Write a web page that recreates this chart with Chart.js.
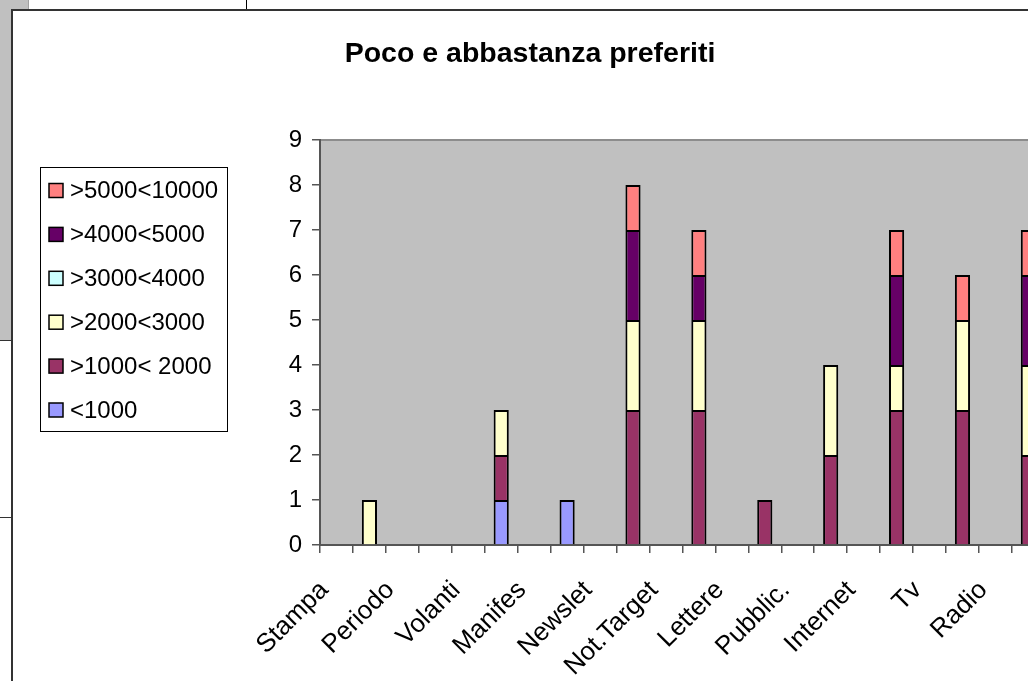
<!DOCTYPE html>
<html>
<head>
<meta charset="utf-8">
<script src="https://cdn.jsdelivr.net/npm/chart.js@4"></script>
<style>
  html, body { margin: 0; padding: 0; width: 1028px; height: 681px; overflow: hidden; background: #fff; }
  .sheet-gray { position: absolute; left: 0; top: 0; width: 11px; height: 340px; background: #c0c0c0; }
  .sheet-gray-top { position: absolute; left: 0; top: 0; width: 28px; height: 9px; background: #c0c0c0; border-right: 1px solid #a0a0a0; }
  .rule { position: absolute; left: 0; width: 11px; height: 1px; background: #333; }
  .vcell { position: absolute; left: 246px; top: 0; width: 1px; height: 9px; background: #000; }
  #frame { position: absolute; left: 11px; top: 9px; width: 1100px; height: 700px;
           border-left: 2px solid #333; border-top: 2px solid #333; }
  canvas { display: block; }
</style>
</head>
<body>
<div class="sheet-gray"></div>
<div class="sheet-gray-top"></div>
<div class="vcell"></div>
<div class="rule" style="top:340px"></div>
<div class="rule" style="top:517px"></div>
<div id="frame"><canvas id="chart" width="1060" height="680"></canvas></div>

<script>
// Media names shown on the axis; each one is followed by an unlabelled slot
const media = ['Stampa', 'Periodo', 'Volanti', 'Manifes', 'Newslet', 'Not.Target',
               'Lettere', 'Pubblic.', 'Internet', 'Tv', 'Radio'];
const categories = media.flatMap(m => [m, '']);

// Counts per budget band (22 slots)
const under1000   = [null,null,null,null,null,1,   null,1,   null,null,null,null,null,null,null,null,null,null,null,null,null,null];
const from1000    = [null,null,null,null,null,1,   null,null,null,3,   null,3,   null,1,   null,2,   null,3,   null,3,   null,2];
const from2000    = [null,1,   null,null,null,1,   null,null,null,2,   null,2,   null,null,null,2,   null,1,   null,2,   null,2];
const from3000    = [null,null,null,null,null,null,null,null,null,null,null,null,null,null,null,null,null,null,null,null,null,null];
const from4000    = [null,null,null,null,null,null,null,null,null,2,   null,1,   null,null,null,null,null,2,   null,null,null,2];
const from5000    = [null,null,null,null,null,null,null,null,null,1,   null,1,   null,null,null,null,null,1,   null,1,   null,1];

const seriesNames  = ['<1000', '>1000< 2000', '>2000<3000', '>3000<4000', '>4000<5000', '>5000<10000'];
const seriesColors = ['#9999FF', '#993366', '#FFFFCC', '#CCFFFF', '#660066', '#FF8080'];
const seriesValues = [under1000, from1000, from2000, from3000, from4000, from5000];

const yTicks = [0, 1, 2, 3, 4, 5, 6, 7, 8, 9];
const chartTitle = 'Poco e abbastanza preferiti';

const FONT = '"Liberation Sans", Arial, sans-serif';

// Grey plot area with its upper border
const plotBackground = {
  id: 'plotBackground',
  beforeDraw(chart) {
    const { ctx, chartArea: a } = chart;
    ctx.save();
    ctx.fillStyle = '#C0C0C0';
    ctx.fillRect(a.left, a.top, a.right - a.left, a.bottom - a.top);
    ctx.strokeStyle = '#8c8c8c';
    ctx.lineWidth = 2;
    ctx.beginPath();
    ctx.moveTo(a.left, a.top);
    ctx.lineTo(a.right, a.top);
    ctx.lineTo(a.right, a.bottom);
    ctx.stroke();
    ctx.restore();
  }
};

// Title and the boxed legend on the left
const titleAndLegend = {
  id: 'titleAndLegend',
  afterDraw(chart) {
    const ctx = chart.ctx;
    ctx.save();
    ctx.fillStyle = '#000';
    ctx.font = 'bold 28.5px ' + FONT;
    ctx.textAlign = 'center';
    ctx.textBaseline = 'alphabetic';
    ctx.fillText(chartTitle, 517, 51);

    // legend frame
    const box = { x: 27.5, y: 156.5, w: 187, h: 264 };
    ctx.fillStyle = '#fff';
    ctx.fillRect(box.x, box.y, box.w, box.h);
    ctx.strokeStyle = '#000';
    ctx.lineWidth = 1;
    ctx.strokeRect(box.x, box.y, box.w, box.h);

    ctx.font = '24px ' + FONT;
    ctx.textAlign = 'left';
    ctx.textBaseline = 'middle';
    const ds = chart.data.datasets;
    const n = ds.length;
    for (let k = 0; k < n; k++) {
      const d = ds[n - 1 - k];
      const cy = 179.5 + k * 43.9;
      ctx.fillStyle = d.backgroundColor;
      ctx.fillRect(36, cy - 7, 14, 14);
      ctx.lineWidth = 1.5;
      ctx.strokeStyle = '#000';
      ctx.strokeRect(36, cy - 7, 14, 14);
      ctx.fillStyle = '#000';
      ctx.fillText(d.label, 57, cy + 1);
    }
    ctx.restore();
  }
};

const datasets = seriesNames.map((name, i) => ({
  label: name,
  data: seriesValues[i],
  backgroundColor: seriesColors[i],
  borderColor: '#000',
  borderWidth: 2,
  barPercentage: 0.46,
  categoryPercentage: 1.0
}));

new Chart(document.getElementById('chart'), {
  type: 'bar',
  data: { labels: categories, datasets },
  options: {
    responsive: false,
    animation: false,
    events: [],
    layout: { padding: { top: 129, right: 25, left: 0, bottom: 0 } },
    plugins: { legend: { display: false }, title: { display: false }, tooltip: { enabled: false } },
    scales: {
      x: {
        stacked: true,
        afterFit(scale) { scale.height = 146; },
        grid: { offset: true, drawOnChartArea: false, drawTicks: true, tickLength: 8, color: '#555', lineWidth: 1.5 },
        border: { display: true, color: '#555', width: 2 },
        ticks: {
          autoSkip: false, maxRotation: 45, minRotation: 45, padding: 22, labelOffset: -12,
          color: '#000', font: { family: FONT, size: 26 }
        }
      },
      y: {
        stacked: true,
        min: 0, max: 9,
        afterFit(scale) { scale.width = 307; },
        afterBuildTicks(scale) { scale.ticks = yTicks.map(v => ({ value: v })); },
        grid: { drawOnChartArea: false, drawTicks: true, tickLength: 8, color: '#555', lineWidth: 1.5 },
        border: { display: true, color: '#555', width: 2 },
        ticks: { padding: 10, color: '#000', font: { family: FONT, size: 24 } }
      }
    }
  },
  plugins: [plotBackground, titleAndLegend]
});
</script>
</body>
</html>
